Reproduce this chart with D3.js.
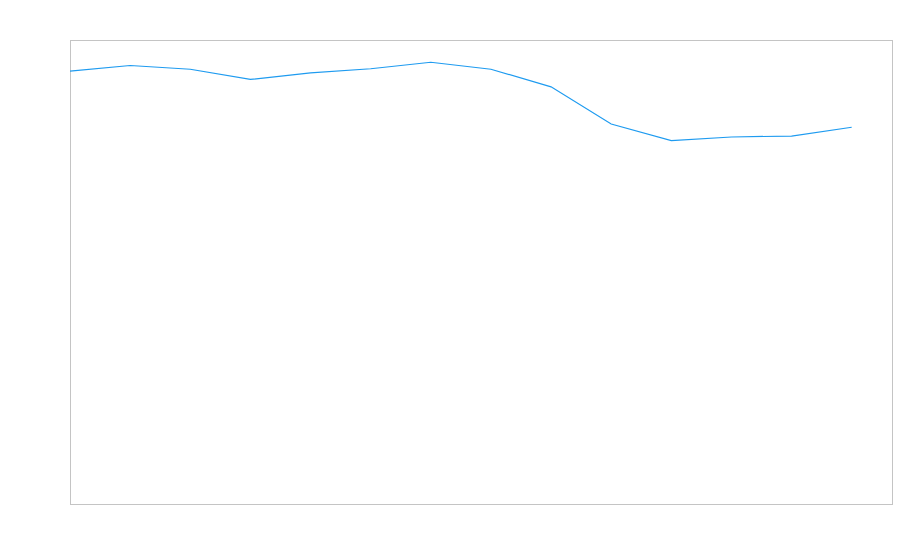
<!DOCTYPE html>
<html>
<head>
<meta charset="utf-8">
<script src="https://cdn.jsdelivr.net/npm/d3@7"></script>
<style>
  html, body { margin: 0; padding: 0; background: #fff; }
  svg { display: block; }
</style>
</head>
<body>
<svg id="chart" width="900" height="560"></svg>
<script>
// point index along the x axis, no labels shown in the chart
const categories = [0, 1, 2, 3, 4, 5, 6, 7, 8, 9, 10, 11, 12, 13];
// values (y domain 0..100)
const seriesValues = [93.3, 94.5, 93.7, 91.5, 92.9, 93.8, 95.2, 93.7, 89.9, 81.9, 78.3, 79.1, 79.3, 81.2];
const yDomain = [0, 100];
const xDomain = [0, 13.67];

const svg = d3.select("#chart");
const margin = { top: 40, right: 8, bottom: 56, left: 70 };
const width = 900 - margin.left - margin.right;
const height = 560 - margin.top - margin.bottom;

const x = d3.scaleLinear().domain(xDomain).range([0, width]);
const y = d3.scaleLinear().domain(yDomain).range([height, 0]);

const g = svg.append("g").attr("transform", "translate(" + margin.left + "," + margin.top + ")");

// plot frame
g.append("rect")
  .attr("x", 0.5)
  .attr("y", 0.5)
  .attr("width", width)
  .attr("height", height)
  .attr("fill", "none")
  .attr("stroke", "#c4c4c4")
  .attr("stroke-width", 1);

const line = d3.line()
  .x((d, i) => x(categories[i]))
  .y(d => y(d));

g.append("path")
  .datum(seriesValues)
  .attr("d", line)
  .attr("fill", "none")
  .attr("stroke", "#1e9bf0")
  .attr("stroke-width", 1.2);
</script>
</body>
</html>
